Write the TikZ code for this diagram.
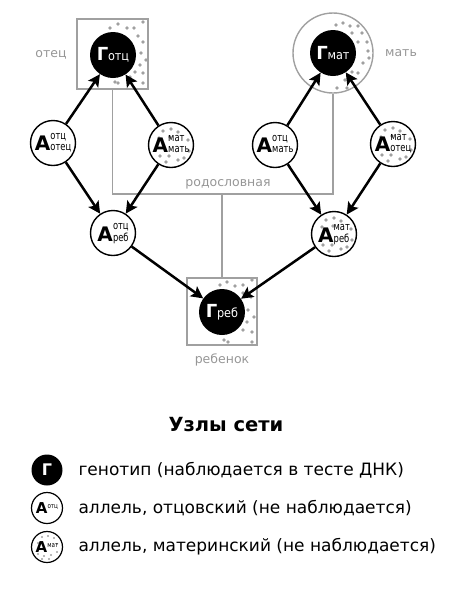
\documentclass[tikz,border=0pt]{standalone}
\usepackage{fontspec}
\usepackage{graphicx}
\setmainfont{DejaVu Sans}
\usetikzlibrary{arrows.meta}
\definecolor{lg}{RGB}{160,160,160}
\definecolor{lbl}{RGB}{150,150,150}
\newcommand\allel[2]{{\fontsize{20}{20}\selectfont\bfseries А}\kern0.2pt\scalebox{0.76}[1]{\fontsize{11}{10.5}\selectfont\begin{tabular}[b]{@{}l@{}}#1\\[0.5pt]#2\end{tabular}}}
\newcommand\gen[1]{{\fontsize{18}{18}\selectfont\bfseries Г}\kern-0.3pt\scalebox{0.9}[1]{\fontsize{12.5}{12}\selectfont #1}}
\newcommand\mdots[2]{\foreach \dx/\dy in {-8/-14,0/-16,7/-13,-12/-7,-1/-8,17/-5,18/6,-11/11,-2/11,7/15,-5/17,13/13}{\fill[lg] (#1+\dx,#2+\dy) circle (1.9pt);}}
\tikzset{
  gen/.style={circle,fill=black,text=white,minimum size=46pt,inner sep=0pt},
  al/.style={circle,draw=black,line width=1.4pt,fill=white,minimum size=45pt,inner sep=0pt},
  gbox/.style={draw=lg,line width=1.4pt,rectangle,inner sep=0pt},
  gline/.style={draw=lg,line width=1.4pt},
  lab/.style={text=lbl,font=\fontsize{12.5}{14}\selectfont},
  arr/.style={line width=2.5pt,-{Stealth[length=12pt,width=12pt,inset=2.5pt]}},
  leg/.style={anchor=west,font=\fontsize{17}{19}\selectfont}
}
\begin{document}
\begin{tikzpicture}[x=1pt,y=-1pt]
\useasboundingbox (0,0) rectangle (459,590);
% frames
\node[gbox,minimum width=71pt,minimum height=70pt] (Fbox) at (112.5,54) {};
\node[circle,draw=lg,line width=1.4pt,minimum size=80pt,inner sep=0pt] (Mcirc) at (333,53) {};
\node[gbox,minimum width=70pt,minimum height=67pt] (Cbox) at (222,311.5) {};
\coordinate (pc) at (222,194);
\draw[gline] (Fbox.south) |- (pc) -| (Mcirc.south);
\draw[gline] (pc) -- (Cbox.north);
\node[lab] (ltree) at (228,184) {родословная};
\node[lab] (lf) at (51,55) {отец};
\node[lab] (lm) at (401,53) {мать};
\node[lab] (lc) at (222,360) {ребенок};
% dots around genotypes
\foreach \px/\py in {110/28,118/24,127/28,134/28,143/22,138/36,143/42,141/53,146/60,140/65,135/72,143/73,130/77,143/83,115/82,118/83}{\fill[lg] (\px,\py) circle (1.9pt);}
\foreach \px/\py in {336/25,343/23,350/26,358/26,352/33,362/33,358/42,367/42,368/51,363/63,369/58,358/73,352/72,345/80,337/88,347/88}{\fill[lg] (\px,\py) circle (1.9pt);}
\foreach \px/\py in {220/285,227/282,235/286,243/285,252/280,243/293,251/297,248/310,254/317,247/322,243/330,252/332,224/340,228/342,252/342}{\fill[lg] (\px,\py) circle (1.9pt);}
% genotype nodes
\node[gen] (Gf) at (113,55) {\gen{отц}};
\node[gen] (Gm) at (333,53) {\gen{мат}};
\node[gen] (Gc) at (222,312) {\gen{реб}};
% allele nodes
\node[al] (A1) at (53,143) {};
\node[al] (A2) at (171,145) {};
\mdots{171}{145}
\node[al] (A3) at (275,145) {};
\node[al] (A4) at (393,144) {};
\mdots{393}{144}
\node[al] (A5) at (113,233) {};
\node[al] (A6) at (334,234) {};
\mdots{334}{234}
\node (t1) at (A1) {\allel{отц}{отец}};
\node (t2) at (A2) {\allel{мат}{мать}};
\node (t3) at (A3) {\allel{отц}{мать}};
\node (t4) at (A4) {\allel{мат}{отец}};
\node (t5) at (A5) {\allel{отц}{реб}};
\node (t6) at (A6) {\allel{мат}{реб}};
% arrows
\draw[arr] (A1) -- (Gf);
\draw[arr] (A2) -- (Gf);
\draw[arr] (A3) -- (Gm);
\draw[arr] (A4) -- (Gm);
\draw[arr] (A1) -- (A5);
\draw[arr] (A2) -- (A5);
\draw[arr] (A3) -- (A6);
\draw[arr] (A4) -- (A6);
\draw[arr] (A5) -- (Gc);
\draw[arr] (A6) -- (Gc);
% legend
\node[font=\bfseries\fontsize{19.5}{21}\selectfont] (title) at (226,425) {Узлы сети};
\node[circle,fill=black,text=white,minimum size=31pt,inner sep=0pt,font=\bfseries\fontsize{16}{16}\selectfont] (L1) at (47,470) {Г};
\node[circle,draw=black,line width=1.2pt,minimum size=31pt,inner sep=0pt] (L2) at (47,508) {};
\node[circle,draw=black,line width=1.2pt,minimum size=31pt,inner sep=0pt] (L3) at (47,547) {};
\foreach \dx/\dy in {-5/-10,1/-11,7/-9,-9/-4,10/-3,10/5,-9/7,-3/9,4/8,-5/12,2/12}{\fill[lg] (47+\dx,547+\dy) circle (1.2pt);}
\node (l2t) at (L2) {{\fontsize{15}{15}\selectfont\bfseries А}\raisebox{5pt}{\scalebox{0.8}[1]{\fontsize{7}{7}\selectfont отц}}};
\node (l3t) at (L3) {{\fontsize{15}{15}\selectfont\bfseries А}\raisebox{5pt}{\scalebox{0.8}[1]{\fontsize{7}{7}\selectfont мат}}};
\node[leg] (x1) at (75,470) {генотип (наблюдается в тесте ДНК)};
\node[leg] (x2) at (75,508) {аллель, отцовский (не наблюдается)};
\node[leg] (x3) at (75,547) {аллель, материнский (не наблюдается)};
\end{tikzpicture}
\end{document}
